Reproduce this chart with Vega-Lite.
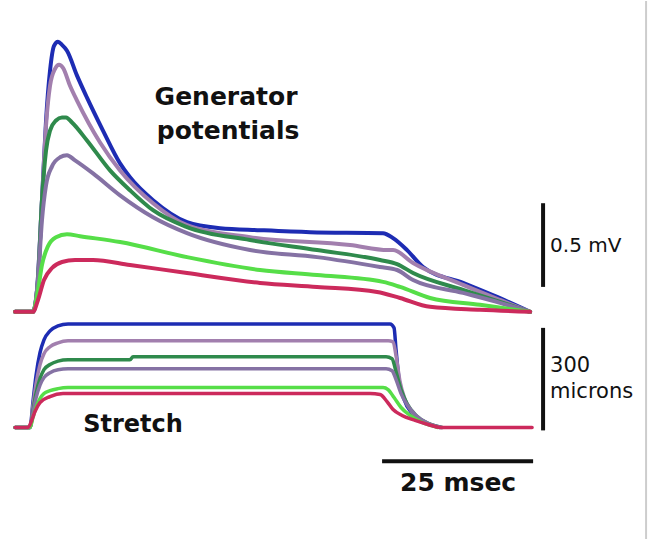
{
  "$schema": "https://vega.github.io/schema/vega-lite/v6.json",
  "width": 650,
  "height": 540,
  "autosize": {"type": "fit", "contains": "padding"},
  "padding": 0,
  "background": "white",
  "config": {"view": {"stroke": null}},
  "datasets": {
    "gp": [
      {"k":"blue","t":0,"v":0},{"k":"blue","t":2.96,"v":0},{"k":"blue","t":3.63,"v":0.131},{"k":"blue","t":4.45,"v":0.667},{"k":"blue","t":5.12,"v":1.143},{"k":"blue","t":5.78,"v":1.44},{"k":"blue","t":6.44,"v":1.589},{"k":"blue","t":7.1,"v":1.613},{"k":"blue","t":7.76,"v":1.595},{"k":"blue","t":8.59,"v":1.56},{"k":"blue","t":10.25,"v":1.411},{"k":"blue","t":11.9,"v":1.28},{"k":"blue","t":14.55,"v":1.083},{"k":"blue","t":17.37,"v":0.887},{"k":"blue","t":19.02,"v":0.804},{"k":"blue","t":22.83,"v":0.667},{"k":"blue","t":28.46,"v":0.536},{"k":"blue","t":33.92,"v":0.5},{"k":"blue","t":40.55,"v":0.488},{"k":"blue","t":48.82,"v":0.476},{"k":"blue","t":60.91,"v":0.47},{"k":"blue","t":62.57,"v":0.44},{"k":"blue","t":64.88,"v":0.369},{"k":"blue","t":67.53,"v":0.268},{"k":"blue","t":74.16,"v":0.173},{"k":"blue","t":79.79,"v":0.089},{"k":"blue","t":85.25,"v":0},
      {"k":"mauve","t":0,"v":0},{"k":"mauve","t":2.96,"v":0},{"k":"mauve","t":3.63,"v":0.131},{"k":"mauve","t":4.45,"v":0.667},{"k":"mauve","t":5.12,"v":1.113},{"k":"mauve","t":5.78,"v":1.351},{"k":"mauve","t":6.61,"v":1.452},{"k":"mauve","t":7.27,"v":1.476},{"k":"mauve","t":7.93,"v":1.458},{"k":"mauve","t":9.09,"v":1.351},{"k":"mauve","t":10.25,"v":1.262},{"k":"mauve","t":14.06,"v":1.012},{"k":"mauve","t":17.37,"v":0.845},{"k":"mauve","t":22.83,"v":0.649},{"k":"mauve","t":28.46,"v":0.518},{"k":"mauve","t":38.89,"v":0.446},{"k":"mauve","t":55.45,"v":0.399},{"k":"mauve","t":61.74,"v":0.369},{"k":"mauve","t":62.57,"v":0.369},{"k":"mauve","t":65.88,"v":0.292},{"k":"mauve","t":74.16,"v":0.161},{"k":"mauve","t":80.28,"v":0.071},{"k":"mauve","t":85.25,"v":0},
      {"k":"dkgreen","t":0,"v":0},{"k":"dkgreen","t":2.96,"v":0},{"k":"dkgreen","t":3.79,"v":0.19},{"k":"dkgreen","t":4.45,"v":0.667},{"k":"dkgreen","t":5.12,"v":0.964},{"k":"dkgreen","t":5.78,"v":1.083},{"k":"dkgreen","t":6.77,"v":1.143},{"k":"dkgreen","t":7.76,"v":1.161},{"k":"dkgreen","t":8.43,"v":1.161},{"k":"dkgreen","t":9.42,"v":1.131},{"k":"dkgreen","t":11.9,"v":1.024},{"k":"dkgreen","t":15.71,"v":0.845},{"k":"dkgreen","t":19.02,"v":0.726},{"k":"dkgreen","t":22.83,"v":0.607},{"k":"dkgreen","t":28.46,"v":0.506},{"k":"dkgreen","t":38.89,"v":0.429},{"k":"dkgreen","t":49.98,"v":0.369},{"k":"dkgreen","t":60.41,"v":0.31},{"k":"dkgreen","t":63.23,"v":0.285},{"k":"dkgreen","t":65.88,"v":0.232},{"k":"dkgreen","t":74.16,"v":0.131},{"k":"dkgreen","t":80.28,"v":0.06},{"k":"dkgreen","t":85.25,"v":0},
      {"k":"purple","t":0,"v":0},{"k":"purple","t":2.96,"v":0},{"k":"purple","t":3.79,"v":0.19},{"k":"purple","t":4.45,"v":0.548},{"k":"purple","t":5.12,"v":0.756},{"k":"purple","t":6.11,"v":0.869},{"k":"purple","t":7.43,"v":0.923},{"k":"purple","t":8.59,"v":0.935},{"k":"purple","t":9.92,"v":0.905},{"k":"purple","t":12.9,"v":0.827},{"k":"purple","t":17.37,"v":0.696},{"k":"purple","t":22.83,"v":0.565},{"k":"purple","t":28.46,"v":0.47},{"k":"purple","t":38.89,"v":0.369},{"k":"purple","t":49.98,"v":0.327},{"k":"purple","t":60.41,"v":0.268},{"k":"purple","t":63.23,"v":0.25},{"k":"purple","t":65.88,"v":0.19},{"k":"purple","t":74.16,"v":0.113},{"k":"purple","t":80.28,"v":0.054},{"k":"purple","t":85.25,"v":0},
      {"k":"lgreen","t":0,"v":0},{"k":"lgreen","t":2.96,"v":0},{"k":"lgreen","t":3.79,"v":0.131},{"k":"lgreen","t":4.45,"v":0.28},{"k":"lgreen","t":5.45,"v":0.393},{"k":"lgreen","t":6.77,"v":0.446},{"k":"lgreen","t":8.59,"v":0.464},{"k":"lgreen","t":10.75,"v":0.452},{"k":"lgreen","t":17.37,"v":0.417},{"k":"lgreen","t":28.46,"v":0.327},{"k":"lgreen","t":40.55,"v":0.25},{"k":"lgreen","t":49.98,"v":0.22},{"k":"lgreen","t":60.91,"v":0.179},{"k":"lgreen","t":63.72,"v":0.149},{"k":"lgreen","t":68.69,"v":0.083},{"k":"lgreen","t":76.97,"v":0.042},{"k":"lgreen","t":85.25,"v":0},
      {"k":"red","t":0,"v":0},{"k":"red","t":2.96,"v":0},{"k":"red","t":3.79,"v":0.071},{"k":"red","t":4.78,"v":0.19},{"k":"red","t":6.11,"v":0.262},{"k":"red","t":7.76,"v":0.298},{"k":"red","t":9.92,"v":0.31},{"k":"red","t":12.9,"v":0.31},{"k":"red","t":19.02,"v":0.28},{"k":"red","t":28.46,"v":0.232},{"k":"red","t":40.55,"v":0.173},{"k":"red","t":49.98,"v":0.149},{"k":"red","t":59.92,"v":0.119},{"k":"red","t":63.72,"v":0.083},{"k":"red","t":68.69,"v":0.03},{"k":"red","t":76.97,"v":0.012},{"k":"red","t":85.25,"v":0}
    ],
    "st": [
      {"k":"blue","t":0,"s":0},{"k":"blue","t":2.47,"s":0},{"k":"blue","t":2.96,"s":75.7},{"k":"blue","t":3.46,"s":151.5},{"k":"blue","t":4.12,"s":218.5},{"k":"blue","t":4.78,"s":256.3},{"k":"blue","t":5.78,"s":282.6},{"k":"blue","t":7.1,"s":297.1},{"k":"blue","t":8.76,"s":303},{"k":"blue","t":62.07,"s":303},{"k":"blue","t":62.73,"s":291.3},{"k":"blue","t":63.06,"s":227.2},{"k":"blue","t":63.56,"s":139.8},{"k":"blue","t":64.39,"s":81.6},{"k":"blue","t":65.71,"s":40.8},{"k":"blue","t":67.86,"s":14.6},{"k":"blue","t":70.35,"s":0},
      {"k":"mauve","t":0,"s":0},{"k":"mauve","t":2.47,"s":0},{"k":"mauve","t":2.96,"s":64.1},{"k":"mauve","t":3.46,"s":126.7},{"k":"mauve","t":4.12,"s":183.5},{"k":"mauve","t":4.78,"s":215.6},{"k":"mauve","t":5.78,"s":236},{"k":"mauve","t":7.1,"s":247.6},{"k":"mauve","t":8.76,"s":253.4},{"k":"mauve","t":61.74,"s":253.4},{"k":"mauve","t":62.57,"s":250.5},{"k":"mauve","t":63.06,"s":209.7},{"k":"mauve","t":63.72,"s":134},{"k":"mauve","t":64.55,"s":81.6},{"k":"mauve","t":65.88,"s":40.8},{"k":"mauve","t":68.03,"s":14.6},{"k":"mauve","t":70.35,"s":0},
      {"k":"dkgreen","t":0,"s":0},{"k":"dkgreen","t":2.47,"s":0},{"k":"dkgreen","t":2.96,"s":49.5},{"k":"dkgreen","t":3.46,"s":99},{"k":"dkgreen","t":4.12,"s":142.7},{"k":"dkgreen","t":4.78,"s":169},{"k":"dkgreen","t":5.78,"s":184.1},{"k":"dkgreen","t":7.1,"s":194},{"k":"dkgreen","t":8.76,"s":198.1},{"k":"dkgreen","t":19.02,"s":198.1},{"k":"dkgreen","t":19.52,"s":206.8},{"k":"dkgreen","t":61.41,"s":206.8},{"k":"dkgreen","t":62.4,"s":201},{"k":"dkgreen","t":63.06,"s":163.1},{"k":"dkgreen","t":63.89,"s":110.7},{"k":"dkgreen","t":64.88,"s":69.9},{"k":"dkgreen","t":66.21,"s":37.9},{"k":"dkgreen","t":68.36,"s":11.7},{"k":"dkgreen","t":70.68,"s":0},
      {"k":"purple","t":0,"s":0},{"k":"purple","t":2.47,"s":0},{"k":"purple","t":2.96,"s":43.7},{"k":"purple","t":3.46,"s":85.9},{"k":"purple","t":4.12,"s":123.8},{"k":"purple","t":4.78,"s":145.7},{"k":"purple","t":5.78,"s":160.2},{"k":"purple","t":7.1,"s":169},{"k":"purple","t":8.76,"s":171.9},{"k":"purple","t":61.41,"s":171.9},{"k":"purple","t":62.4,"s":166},{"k":"purple","t":63.06,"s":139.8},{"k":"purple","t":63.89,"s":99},{"k":"purple","t":64.88,"s":67},{"k":"purple","t":66.37,"s":35},{"k":"purple","t":68.36,"s":11.7},{"k":"purple","t":70.68,"s":0},
      {"k":"lgreen","t":0,"s":0},{"k":"lgreen","t":2.47,"s":0},{"k":"lgreen","t":2.96,"s":29.1},{"k":"lgreen","t":3.46,"s":58.3},{"k":"lgreen","t":4.12,"s":84.5},{"k":"lgreen","t":4.78,"s":99},{"k":"lgreen","t":5.78,"s":107.8},{"k":"lgreen","t":7.1,"s":113.6},{"k":"lgreen","t":8.76,"s":116.5},{"k":"lgreen","t":60.91,"s":116.5},{"k":"lgreen","t":61.74,"s":110.7},{"k":"lgreen","t":62.73,"s":87.4},{"k":"lgreen","t":63.89,"s":58.3},{"k":"lgreen","t":65.38,"s":35},{"k":"lgreen","t":67.37,"s":14.6},{"k":"lgreen","t":70.02,"s":0},
      {"k":"red","t":0,"s":0},{"k":"red","t":2.14,"s":0},{"k":"red","t":2.8,"s":23.3},{"k":"red","t":3.29,"s":46.6},{"k":"red","t":4.12,"s":72.8},{"k":"red","t":5.78,"s":90.3},{"k":"red","t":7.93,"s":99},{"k":"red","t":58.76,"s":99},{"k":"red","t":60.41,"s":96.1},{"k":"red","t":61.57,"s":75.7},{"k":"red","t":62.57,"s":52.4},{"k":"red","t":64.06,"s":35},{"k":"red","t":66.21,"s":20.4},{"k":"red","t":68.36,"s":8.7},{"k":"red","t":70.35,"s":0},{"k":"red","t":85.58,"s":0}
    ]
  },
  "layer": [
    {
      "layer": [
        {
          "data": {"name": "gp"},
          "mark": {"type": "line", "strokeWidth": 4, "strokeJoin": "round", "strokeCap": "round", "interpolate": "monotone"},
          "encoding": {
            "x": {"field": "t", "type": "quantitative", "scale": {"domain": [-2.5, 105.1], "nice": false, "zero": false}, "axis": null},
            "y": {"field": "v", "type": "quantitative", "scale": {"domain": [-1.357, 1.857], "nice": false, "zero": false}, "axis": null},
            "color": {"field": "k", "type": "nominal", "scale": {"domain": ["blue","mauve","dkgreen","purple","lgreen","red"], "range": ["#1d2cb3","#a27fae","#2f8a4c","#8572a4","#56de48","#cc2a5c"]}, "legend": null}
          }
        },
        {
          "data": {"values": [{"t": 87.4, "v": 0.149, "v2": 0.649}]},
          "mark": {"type": "rule", "strokeWidth": 4, "color": "#111111"},
          "encoding": {
            "x": {"field": "t", "type": "quantitative"},
            "y": {"field": "v", "type": "quantitative"},
            "y2": {"field": "v2"}
          }
        },
        {
          "data": {"values": [{"t": 34.92, "v": 1.238, "label": "Generator"}, {"t": 35.25, "v": 1.03, "label": "potentials"}]},
          "mark": {"type": "text", "font": "DejaVu Sans", "fontWeight": "bold", "fontSize": 25, "align": "center", "baseline": "alphabetic", "color": "#111111"},
          "encoding": {
            "x": {"field": "t", "type": "quantitative"},
            "y": {"field": "v", "type": "quantitative"},
            "text": {"field": "label"}
          }
        },
        {
          "data": {"values": [{"t": 88.56, "v": 0.357, "label": "0.5 mV"}]},
          "mark": {"type": "text", "font": "DejaVu Sans", "fontSize": 20, "align": "left", "baseline": "alphabetic", "color": "#111111"},
          "encoding": {
            "x": {"field": "t", "type": "quantitative"},
            "y": {"field": "v", "type": "quantitative"},
            "text": {"field": "label"}
          }
        }
      ]
    },
    {
      "layer": [
        {
          "data": {"name": "st"},
          "mark": {"type": "line", "strokeWidth": 3.5, "strokeJoin": "round", "strokeCap": "round", "interpolate": "monotone"},
          "encoding": {
            "x": {"field": "t", "type": "quantitative", "scale": {"domain": [-2.5, 105.1], "nice": false, "zero": false}, "axis": null},
            "y": {"field": "s", "type": "quantitative", "scale": {"domain": [-326.5, 1247.8], "nice": false, "zero": false}, "axis": null},
            "color": {"field": "k", "type": "nominal", "legend": null}
          }
        },
        {
          "data": {"values": [{"t": 87.4, "s": -8.7, "s2": 291.3}]},
          "mark": {"type": "rule", "strokeWidth": 4, "color": "#111111"},
          "encoding": {
            "x": {"field": "t", "type": "quantitative"},
            "y": {"field": "s", "type": "quantitative"},
            "y2": {"field": "s2"}
          }
        },
        {
          "data": {"values": [{"t": 60.75, "t2": 85.75, "s": -99}]},
          "mark": {"type": "rule", "strokeWidth": 4, "color": "#111111"},
          "encoding": {
            "x": {"field": "t", "type": "quantitative"},
            "x2": {"field": "t2"},
            "y": {"field": "s", "type": "quantitative"}
          }
        },
        {
          "data": {"values": [{"t": 104.45}]},
          "mark": {"type": "rule", "strokeWidth": 2, "color": "#cdcdcd"},
          "encoding": {
            "x": {"field": "t", "type": "quantitative"}
          }
        },
        {
          "data": {"values": [{"t": 19.52, "s": -14.6, "label": "Stretch"}]},
          "mark": {"type": "text", "font": "DejaVu Sans", "fontWeight": "bold", "fontSize": 24, "align": "center", "baseline": "alphabetic", "color": "#111111"},
          "encoding": {
            "x": {"field": "t", "type": "quantitative"},
            "y": {"field": "s", "type": "quantitative"},
            "text": {"field": "label"}
          }
        },
        {
          "data": {"values": [{"t": 73.33, "s": -186.4, "label": "25 msec"}]},
          "mark": {"type": "text", "font": "DejaVu Sans", "fontWeight": "bold", "fontSize": 25, "align": "center", "baseline": "alphabetic", "color": "#111111"},
          "encoding": {
            "x": {"field": "t", "type": "quantitative"},
            "y": {"field": "s", "type": "quantitative"},
            "text": {"field": "label"}
          }
        },
        {
          "data": {"values": [{"t": 88.56, "s": 163.1, "label": "300"}, {"t": 88.56, "s": 87.4, "label": "microns"}]},
          "mark": {"type": "text", "font": "DejaVu Sans", "fontSize": 21, "align": "left", "baseline": "alphabetic", "color": "#111111"},
          "encoding": {
            "x": {"field": "t", "type": "quantitative"},
            "y": {"field": "s", "type": "quantitative"},
            "text": {"field": "label"}
          }
        }
      ]
    }
  ],
  "resolve": {"scale": {"y": "independent"}}
}
